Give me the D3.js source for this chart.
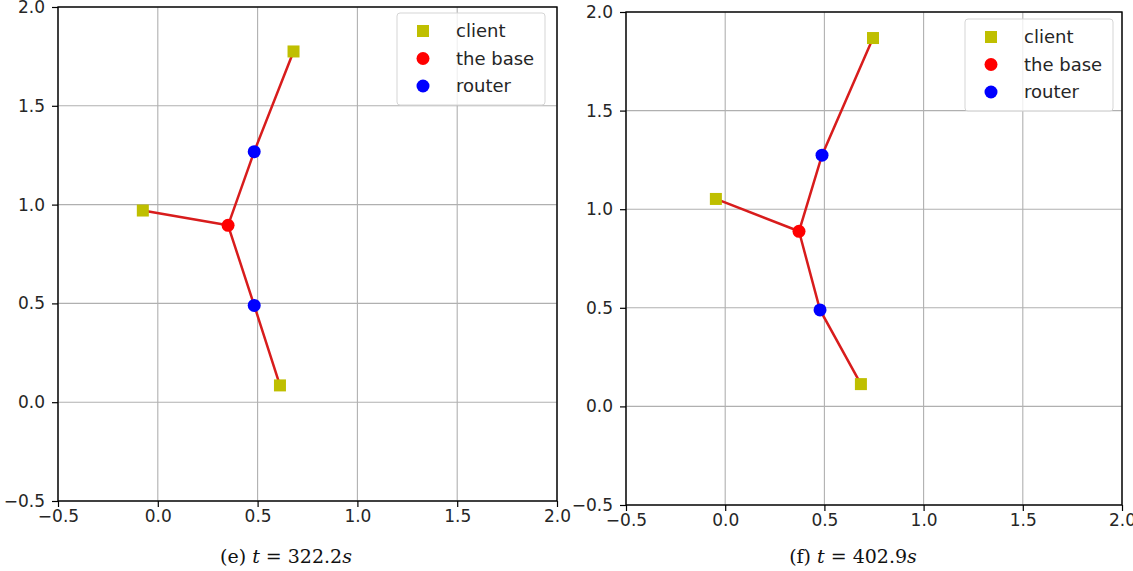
<!DOCTYPE html>
<html>
<head>
<meta charset="utf-8">
<script src="https://cdn.jsdelivr.net/npm/d3@7"></script>
<style>
  body { margin: 0; background: #fff; }
  svg text { font-family: "DejaVu Sans", sans-serif; }
</style>
</head>
<body>
<div id="chart"></div>
<script>
var ticks = [-0.5, 0.0, 0.5, 1.0, 1.5, 2.0];
var legendLabels = ["client", "the base", "router"];

// panel (e)
var clientsE = [[-0.075, 0.97], [0.68, 1.775], [0.612, 0.085]];
var baseE = [[0.352, 0.895]];
var routersE = [[0.483, 1.268], [0.483, 0.49]];
var captionE = ["(e) ", "t", " = 322.2", "s"];

// panel (f)
var clientsF = [[-0.047, 1.052], [0.745, 1.868], [0.684, 0.113]];
var baseF = [[0.372, 0.888]];
var routersF = [[0.488, 1.274], [0.478, 0.489]];
var captionF = ["(f) ", "t", " = 402.9", "s"];

var width = 1133;
var height = 571;

var svg = d3
  .select("#chart")
  .append("svg")
  .attr("width", width)
  .attr("height", height);

function drawPanel(p) {
  var x = d3.scaleLinear().domain([-0.5, 2.0]).range([p.l, p.r]);
  var y = d3.scaleLinear().domain([-0.5, 2.0]).range([p.b, p.t]);
  var g = svg.append("g");

  // grid
  g.selectAll(".gx")
    .data(ticks)
    .enter()
    .append("line")
    .attr("x1", (d) => x(d))
    .attr("x2", (d) => x(d))
    .attr("y1", p.t)
    .attr("y2", p.b)
    .attr("stroke", "#b0b0b0")
    .attr("stroke-width", 1.1);
  g.selectAll(".gy")
    .data(ticks)
    .enter()
    .append("line")
    .attr("y1", (d) => y(d))
    .attr("y2", (d) => y(d))
    .attr("x1", p.l)
    .attr("x2", p.r)
    .attr("stroke", "#b0b0b0")
    .attr("stroke-width", 1.1);

  // axes
  var fmt = (d) => d3.format(".1f")(d).replace("-", "\u2212");
  var xa = g
    .append("g")
    .attr("transform", `translate(0,${p.b})`)
    .call(d3.axisBottom(x).tickValues(ticks).tickFormat(fmt).tickSize(6).tickPadding(3));
  var ya = g
    .append("g")
    .attr("transform", `translate(${p.l},0)`)
    .call(d3.axisLeft(y).tickValues(ticks).tickFormat(fmt).tickSize(6).tickPadding(7));
  [xa, ya].forEach((a) => {
    a.select(".domain").remove();
    a.selectAll("line").attr("stroke", "#000").attr("stroke-width", 1.2);
    a.selectAll("text")
      .attr("font-size", 17)
      .attr("fill", "#262626")
      .attr("font-family", "DejaVu Sans, sans-serif");
  });

  // frame
  g.append("rect")
    .attr("x", p.l)
    .attr("y", p.t)
    .attr("width", p.r - p.l)
    .attr("height", p.b - p.t)
    .attr("fill", "none")
    .attr("stroke", "#000")
    .attr("stroke-width", 1.4);

  // links: client - base, base - router - client
  var b = p.base[0];
  var links = [
    [p.clients[0], b],
    [b, p.routers[0], p.clients[1]],
    [b, p.routers[1], p.clients[2]],
  ];
  var line = d3
    .line()
    .x((d) => x(d[0]))
    .y((d) => y(d[1]));
  g.selectAll(".link")
    .data(links)
    .enter()
    .append("path")
    .attr("d", line)
    .attr("fill", "none")
    .attr("stroke", "#d81c1c")
    .attr("stroke-width", 2.5);

  // markers
  g.selectAll(".client")
    .data(p.clients)
    .enter()
    .append("rect")
    .attr("x", (d) => x(d[0]) - 6)
    .attr("y", (d) => y(d[1]) - 6)
    .attr("width", 12)
    .attr("height", 12)
    .attr("fill", "#bfbf00");
  g.selectAll(".base")
    .data(p.base)
    .enter()
    .append("circle")
    .attr("cx", (d) => x(d[0]))
    .attr("cy", (d) => y(d[1]))
    .attr("r", 6.5)
    .attr("fill", "#ff0000");
  g.selectAll(".router")
    .data(p.routers)
    .enter()
    .append("circle")
    .attr("cx", (d) => x(d[0]))
    .attr("cy", (d) => y(d[1]))
    .attr("r", 6.5)
    .attr("fill", "#0000ff");

  // legend
  var lg = g.append("g").attr("transform", `translate(${p.lx},${p.ly})`);
  lg.append("rect")
    .attr("width", 148)
    .attr("height", 92)
    .attr("rx", 3)
    .attr("fill", "#fff")
    .attr("fill-opacity", 0.8)
    .attr("stroke", "#d5d5d5")
    .attr("stroke-width", 1);
  legendLabels.forEach((lab, i) => {
    var cy = 18 + i * 27.5;
    if (i === 0) {
      lg.append("rect")
        .attr("x", 20)
        .attr("y", cy - 6)
        .attr("width", 12)
        .attr("height", 12)
        .attr("fill", "#bfbf00");
    } else {
      lg.append("circle")
        .attr("cx", 26)
        .attr("cy", cy)
        .attr("r", 6.5)
        .attr("fill", i === 1 ? "#ff0000" : "#0000ff");
    }
    lg.append("text")
      .attr("x", 59)
      .attr("y", cy)
      .attr("dy", "0.35em")
      .attr("font-size", 18)
      .attr("fill", "#262626")
      .text(lab);
  });

  // caption
  var cap = svg
    .append("text")
    .attr("x", p.cx)
    .attr("y", 563)
    .attr("text-anchor", "middle")
    .attr("font-size", 19)
    .attr("fill", "#111")
    .style("font-family", "'DejaVu Serif', 'Liberation Serif', serif");
  p.caption.forEach((s, i) => {
    cap.append("tspan")
      .attr("font-style", i % 2 === 1 ? "italic" : "normal")
      .text(s);
  });
}

drawPanel({
  l: 58, r: 557, t: 7, b: 501,
  clients: clientsE, base: baseE, routers: routersE,
  lx: 397, ly: 13, cx: 286, caption: captionE,
});

drawPanel({
  l: 626, r: 1122, t: 12, b: 505,
  clients: clientsF, base: baseF, routers: routersF,
  lx: 965, ly: 19, cx: 853, caption: captionF,
});
</script>
</body>
</html>
